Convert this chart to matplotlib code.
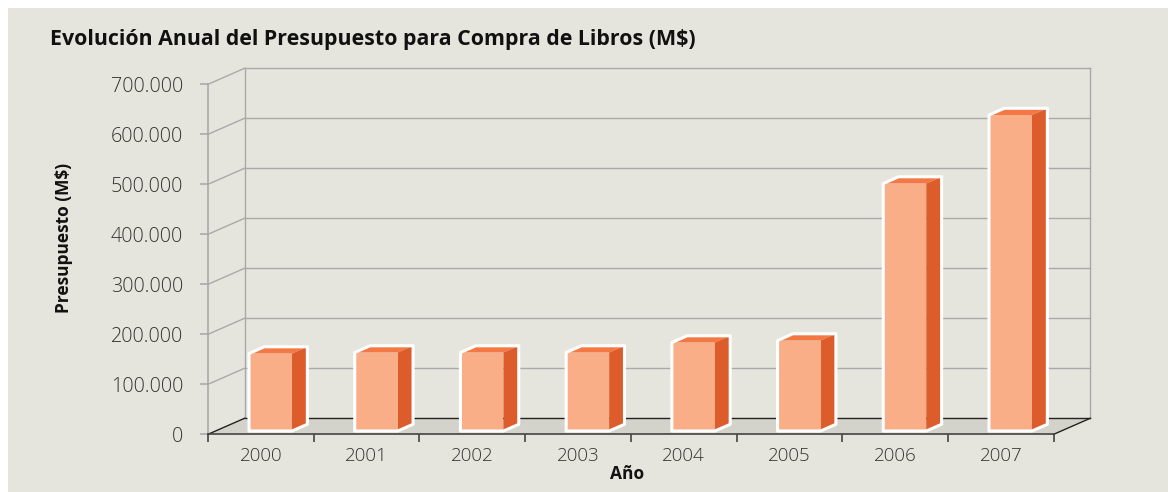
import matplotlib
matplotlib.use("Agg")
import matplotlib.pyplot as plt
from matplotlib.patches import Polygon, Rectangle
from matplotlib.ticker import FuncFormatter, FixedLocator
import numpy as np

# ---- data ----
years = ["2000", "2001", "2002", "2003", "2004", "2005", "2006", "2007"]
budget = [155000, 157000, 157000, 157000, 177000, 181000, 495000, 632000]
yticks = [0, 100000, 200000, 300000, 400000, 500000, 600000, 700000]
title = "Evolución Anual del Presupuesto para Compra de Libros (M$)"
ylabel = "Presupuesto (M$)"
xlabel = "Año"

# ---- style ----
BG = "#e5e5dd"
FLOOR = "#d4d3cb"
FRONT = "#f9ae88"
SIDE = "#dd5c2c"
TOP = "#f37843"
GRID = "#a9a9ab"
TXT = "#333333"
FONT = ["Open Sans", "DejaVu Sans"]
plt.rcParams["font.family"] = FONT

W, H = 1168, 492
fig = plt.figure(figsize=(W / 100, H / 100), dpi=100, facecolor="white")
fig.patches.append(Rectangle((8 / W, 0), 1 - 8 / W, 1 - 8 / H, transform=fig.transFigure,
                             facecolor=BG, edgecolor="none", zorder=-10))

ax = fig.add_axes([208 / W, (H - 434.3) / H, 845.7 / W, 350 / H])
ax.set_facecolor("none")
n = len(years)
ymax = yticks[-1]
ax.set_xlim(0, n)
ax.set_ylim(0, ymax)

# 3D depth vector (in data units)
DX = 36.5 / (845.7 / n)
DY = 16 / (350 / ymax)

# walls: gridlines on left wall and back wall
for v in yticks:
    if v == 0:
        continue
    ax.plot([0, DX], [v, v + DY], color=GRID, lw=1, clip_on=False, zorder=1)
    ax.plot([DX, n + DX], [v + DY, v + DY], color=GRID, lw=1, clip_on=False, zorder=1)
ax.plot([DX, DX], [DY, ymax + DY], color=GRID, lw=1, clip_on=False, zorder=1)
ax.plot([n + DX, n + DX], [DY, ymax + DY], color=GRID, lw=1, clip_on=False, zorder=1)

# floor
ax.add_patch(Polygon([(0, 0), (n, 0), (n + DX, DY), (DX, DY)], closed=True,
                     facecolor=FLOOR, edgecolor="none", clip_on=False, zorder=2))
ax.plot([DX, n + DX], [DY, DY], color="#222222", lw=1, clip_on=False, zorder=3)
ax.plot([0, DX], [0, DY], color="#222222", lw=1, clip_on=False, zorder=3)
ax.plot([n, n + DX], [0, DY], color="#222222", lw=1, clip_on=False, zorder=3)

# bars
D0 = 0.206      # depth fraction where bar front sits
BD = 0.42       # bar depth fraction
OFF = 33.5 / (845.7 / n)
BW = 43 / (845.7 / n)
for i, v in enumerate(budget):
    x0 = i + OFF + DX * D0
    y0 = DY * D0
    ddx, ddy = DX * BD, DY * BD
    z = 5 + i
    ax.add_patch(Polygon([(x0 + BW, y0), (x0 + BW + ddx, y0 + ddy),
                          (x0 + BW + ddx, y0 + v + ddy), (x0 + BW, y0 + v)],
                         closed=True, facecolor=SIDE, edgecolor="none", clip_on=False, zorder=z))
    ax.add_patch(Polygon([(x0, y0 + v), (x0 + BW, y0 + v), (x0 + BW + ddx, y0 + v + ddy),
                          (x0 + ddx, y0 + v + ddy)],
                         closed=True, facecolor=TOP, edgecolor="none", clip_on=False, zorder=z))
    ax.add_patch(Rectangle((x0, y0), BW, v, facecolor=FRONT, edgecolor="none",
                           clip_on=False, zorder=z))
    ax.add_patch(Polygon([(x0, y0), (x0 + BW, y0), (x0 + BW + ddx, y0 + ddy),
                          (x0 + BW + ddx, y0 + v + ddy), (x0 + ddx, y0 + v + ddy), (x0, y0 + v)],
                         closed=True, facecolor="none", edgecolor="white", lw=2.2,
                         joinstyle="round", clip_on=False, zorder=z + 0.5))

# axes spines and ticks
for s in ["top", "right"]:
    ax.spines[s].set_visible(False)
ax.spines["left"].set_color(GRID)
ax.spines["left"].set_linewidth(1.2)
ax.spines["bottom"].set_color("#444444")
ax.spines["bottom"].set_linewidth(1.2)
ax.spines["bottom"].set_zorder(20)

ax.yaxis.set_major_locator(FixedLocator(yticks))
ax.yaxis.set_major_formatter(FuncFormatter(lambda v, p: f"{int(v):,}".replace(",", ".")))
ax.tick_params(axis="y", which="major", length=6, width=1.2, color=GRID, pad=12,
               labelsize=14.2, labelcolor=TXT)
for lab in ax.get_yticklabels():
    lab.set_fontweight("light")

ax.xaxis.set_major_locator(FixedLocator(np.arange(n + 1)))
ax.xaxis.set_minor_locator(FixedLocator(np.arange(n) + 0.5))
ax.xaxis.set_major_formatter(FuncFormatter(lambda v, p: ""))
ax.set_xticks(np.arange(n) + 0.5, years, minor=True)
ax.tick_params(axis="x", which="major", length=5.5, width=1.2, color="#444444")
ax.tick_params(axis="x", which="minor", length=0, pad=9, labelsize=13.5, labelcolor=TXT)
for lab in ax.get_xticklabels(minor=True):
    lab.set_fontweight("light")

# texts
fig.text(50 / W, (H - 45) / H, title, fontsize=15.4, fontweight="bold", color="#111111",
         ha="left", va="baseline")
fig.text(64 / W, (H - 238) / H, ylabel, fontsize=12.5, fontweight="bold", color="#111111",
         rotation=90, ha="center", va="center")
fig.text(627.5 / W, (H - 474) / H, xlabel, fontsize=12.5, fontweight="bold", color="#111111",
         ha="center", va="center")

fig.savefig("out.png", dpi=100, facecolor=fig.get_facecolor())
